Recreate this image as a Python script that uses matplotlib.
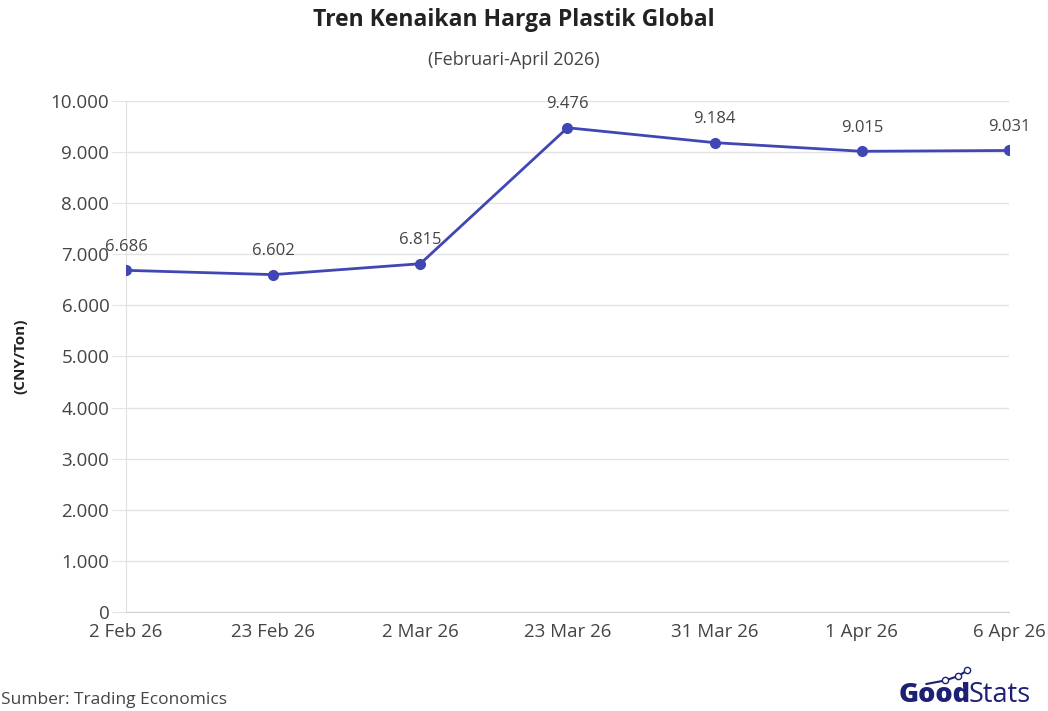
import matplotlib.pyplot as plt
import matplotlib.ticker as mticker

plt.rcParams['font.family'] = ['Open Sans', 'DejaVu Sans']

dates = ['2 Feb 26', '23 Feb 26', '2 Mar 26', '23 Mar 26', '31 Mar 26', '1 Apr 26', '6 Apr 26']
harga = [6686, 6602, 6815, 9476, 9184, 9015, 9031]
y_ticks = [0, 1000, 2000, 3000, 4000, 5000, 6000, 7000, 8000, 9000, 10000]

line_color = '#4047b4'
text_color = '#444444'

fig = plt.figure(figsize=(10.48, 7.11), dpi=100)
ax = fig.add_axes([0.1202, 0.1392, 0.8426, 0.7188])

x = list(range(len(dates)))
ax.plot(x, harga, color=line_color, lw=2, marker='o', markersize=7, zorder=3)

# label nilai di atas titik
for xi, v in zip(x, harga):
    lbl = f'{v:,}'.replace(',', '.')
    ax.annotate(lbl, (xi, v), xytext=(0, 11), textcoords='offset points',
                ha='center', va='bottom', fontsize=12, color=text_color)

ax.set_xlim(0, len(dates) - 1)
ax.set_ylim(0, 10000)
ax.set_xticks(x)
ax.set_xticklabels(dates)
ax.set_yticks(y_ticks)
ax.yaxis.set_major_formatter(mticker.FuncFormatter(lambda v, p: f'{int(v):,}'.replace(',', '.')))

ax.grid(axis='y', color='#e3e3e3', lw=1)
ax.set_axisbelow(True)
for s in ['top', 'right']:
    ax.spines[s].set_visible(False)
ax.spines['left'].set_color('#e0e0e0')
ax.spines['bottom'].set_color('#d0d0d0')
ax.tick_params(axis='y', length=10, color='#e3e3e3', labelsize=13.5, labelcolor=text_color, pad=2)
ax.tick_params(axis='x', length=0, labelsize=13.5, labelcolor=text_color, pad=8)
ax.set_ylabel('(CNY/Ton)', fontsize=11, fontweight='bold', color='#222222')
ax.yaxis.set_label_coords(-0.112, 0.5)

fig.text(0.49, 0.972, 'Tren Kenaikan Harga Plastik Global', ha='center', va='center',
         fontsize=16.5, fontweight='bold', color='#222222')
fig.text(0.49, 0.915, '(Februari-April 2026)', ha='center', va='center',
         fontsize=13, color=text_color)
fig.text(0.001, 0.016, 'Sumber: Trading Economics', ha='left', va='center',
         fontsize=12.5, color=text_color)

# logo GoodStats
good = fig.text(0.857, 0.023, 'Good', ha='left', va='center', fontsize=19.5,
                fontweight='heavy', color='#1c2173')
ax.annotate('Stats', xy=(1, 0.5), xycoords=good, xytext=(-1, 0), textcoords='offset points',
            ha='left', va='center', fontsize=19.5, color='#1c2173', annotation_clip=False)
fig.lines.append(plt.Line2D([0.884, 0.902, 0.914, 0.923], [0.038, 0.043, 0.049, 0.057],
                            transform=fig.transFigure, color='#1c2173', lw=1.5,
                            marker='o', markersize=4.5, markerfacecolor='white',
                            markevery=[1, 2, 3]))

fig.savefig('out.png', dpi=100)
